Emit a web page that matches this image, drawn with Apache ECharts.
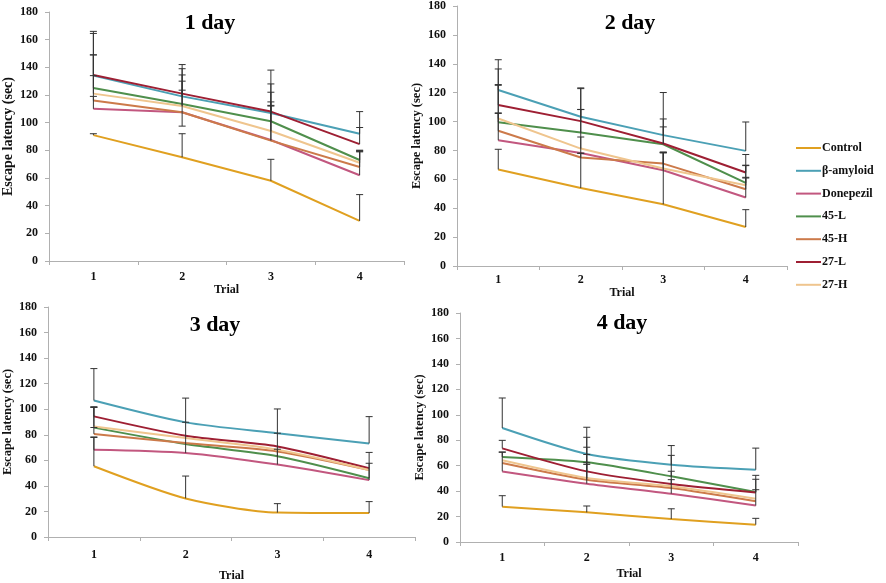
<!DOCTYPE html>
<html>
<head>
<meta charset="utf-8">
<script src="https://cdn.jsdelivr.net/npm/echarts@6/dist/echarts.min.js"></script>
<style>
html,body{margin:0;padding:0;background:#fff;}
#chart{width:886px;height:583px;}
</style>
</head>
<body>
<div id="chart"></div>
<script>
// ---- data ----
const trials = ['1', '2', '3', '4'];
const groups = ['Control', 'β-amyloid', 'Donepezil', '45-L', '45-H', '27-L', '27-H'];
const dayTitles = ['1 day', '2 day', '3 day', '4 day'];
const yTicks = [0, 20, 40, 60, 80, 100, 120, 140, 160, 180];

// means: rows in the order of `groups`, columns = trials 1..4
const day1Means = [
  [91, 75, 58, 29],
  [134, 119, 107, 92],
  [110, 107.5, 87.5, 62],
  [125, 113.5, 101, 73],
  [116, 107.5, 87, 68],
  [134.5, 121, 108, 84.5],
  [121, 112, 94, 71]
];
const day2Means = [
  [66.8, 54, 42.7, 27],
  [121.8, 103.3, 90.6, 79.7],
  [87, 78.3, 66.3, 47.4],
  [99.6, 92.4, 84.3, 57.5],
  [93.6, 75.1, 70.9, 53.1],
  [111.4, 100.3, 84.8, 64.7],
  [102.1, 81.3, 67.5, 55.9]
];
const day3Means = [
  [55.4, 30.2, 19.1, 18.7],
  [106.8, 89.7, 81.2, 73.2],
  [68.3, 65.8, 56.7, 44.5],
  [85.6, 72.7, 63.2, 46],
  [80.7, 73.5, 67, 52.5],
  [94.4, 79.2, 70.9, 53.8],
  [86.4, 77.4, 68.3, 52.5]
];
const day4Means = [
  [27.8, 23.3, 18.1, 13.6],
  [89.6, 69.2, 60.8, 56.8],
  [55.5, 45.8, 38, 28.6],
  [66.8, 62.6, 51.6, 39.3],
  [62.1, 49, 42.4, 32],
  [73.6, 55.5, 45.6, 39],
  [64.2, 50.3, 43.8, 34]
];

// error bar offsets (cap = mean + offset), same layout
const day1Err = [
  [1, 17, 15.5, 19],
  [32, 23, 31, 16],
  [24, -10, 25, 17],
  [24, 21, 21, 7],
  [3, 16, 25, 12],
  [30, 18, 20, 12],
  [28, 18, 21, 8]
];
const day2Err = [
  [14, 24, 36, 12],
  [21, 20, 29.5, 20],
  [19, 11, 12, 14],
  [26, 16, 12, 12],
  [12, 3, 8, 16.7],
  [25, 22.5, 17, 12.5],
  [23, 27, 11, 5]
];
const day3Err = [
  [22.5, 17.5, 7, 9],
  [25, 19, 19, 21],
  [10, 24, 12, 21.7],
  [16, 0, 18, 11.7],
  [5, 0, 0, 0],
  [7.5, 0, 0, 0],
  [15, 0, 0, 0]
];
const day4Err = [
  [8.6, 5, 8, 5],
  [23.6, 21, 15, 17],
  [15, 23, 11, 12.5],
  [4, 19.7, 16.5, 10],
  [0, 12, 0, 0],
  [6.3, 19, 10, 13.4],
  [0, 12, 0, 0]
];

// ---- styling / layout ----
const colors = ['#E0A020', '#4BA0B5', '#C2577F', '#4F8F4C', '#CC7A4A', '#9E1F33', '#EFC58E'];
const FONT = "'Liberation Serif', 'Times New Roman', serif";
const grids = [
  { left: 44, top: 12, width: 360, height: 249 },
  { left: 457, top: 6, width: 330, height: 260 },
  { left: 43, top: 307, width: 372, height: 233 },
  { left: 460, top: 313, width: 338, height: 229 }
];
const labelMargins = [10, 8, 12, 10];
const nameGaps = [22, 21, 33, 26];
const yNameSizes = [14, 12.5, 12.5, 12.5];
const titlePos = [[210, 12], [630, 12], [215, 314], [622, 312]];
const smoothness = [false, false, 0.25, 0.25];

const allMeans = [day1Means, day2Means, day3Means, day4Means];
const allErr = [day1Err, day2Err, day3Err, day4Err];

const axisGray = '#B0B0B0';
const xAxes = [], yAxes = [], series = [], titles = [];

grids.forEach((g, p) => {
  xAxes.push({
    type: 'category', gridIndex: p, data: trials, boundaryGap: true,
    name: 'Trial', nameLocation: 'middle', nameGap: nameGaps[p],
    nameTextStyle: { fontFamily: FONT, fontWeight: 'bold', fontSize: 12, color: '#111' },
    axisLine: { lineStyle: { color: axisGray, width: 1 } },
    axisTick: { show: true, length: 4, lineStyle: { color: axisGray } },
    axisLabel: { fontFamily: FONT, fontWeight: 'bold', fontSize: 12, color: '#111', margin: labelMargins[p] },
    splitLine: { show: false }
  });
  yAxes.push({
    type: 'value', gridIndex: p, min: yTicks[0], max: yTicks[yTicks.length - 1], interval: yTicks[1] - yTicks[0],
    name: 'Escape latency (sec)', nameLocation: 'middle', nameGap: 34,
    nameTextStyle: { fontFamily: FONT, fontWeight: 'bold', fontSize: yNameSizes[p], color: '#111' },
    axisLine: { show: true, lineStyle: { color: axisGray, width: 1 } },
    axisTick: { show: true, length: 4, lineStyle: { color: axisGray } },
    axisLabel: { fontFamily: FONT, fontWeight: 'bold', fontSize: 12, color: '#111', margin: 11 },
    splitLine: { show: false }
  });
  titles.push({
    text: dayTitles[p], left: titlePos[p][0], top: titlePos[p][1], textAlign: 'center', padding: 0,
    textStyle: { fontFamily: FONT, fontWeight: 'bold', fontSize: 22, color: '#000' }
  });
  groups.forEach((name, gi) => {
    series.push({
      type: 'line', name: name, xAxisIndex: p, yAxisIndex: p,
      data: allMeans[p][gi], symbol: 'none', smooth: smoothness[p],
      lineStyle: { color: colors[gi], width: 2 }, itemStyle: { color: colors[gi] },
      z: 2, animation: false
    });
  });
  const ebData = [];
  groups.forEach((name, gi) => {
    trials.forEach((t, ti) => {
      const e = allErr[p][gi][ti];
      if (e !== 0) {
        const m = allMeans[p][gi][ti];
        ebData.push([ti, m, m + e]);
      }
    });
  });
  series.push({
    type: 'custom', xAxisIndex: p, yAxisIndex: p, z: 3, animation: false,
    encode: { x: 0, y: [1, 2] },
    data: ebData,
    renderItem: function (params, api) {
      const x = api.value(0);
      const a = api.coord([x, api.value(1)]);
      const b = api.coord([x, api.value(2)]);
      const st = { stroke: '#333', lineWidth: 1 };
      return {
        type: 'group', children: [
          { type: 'line', shape: { x1: a[0], y1: a[1], x2: b[0], y2: b[1] }, style: st },
          { type: 'line', shape: { x1: b[0] - 3.5, y1: b[1], x2: b[0] + 3.5, y2: b[1] }, style: st }
        ]
      };
    }
  });
});

const chart = echarts.init(document.getElementById('chart'), null, { renderer: 'canvas' });
chart.setOption({
  backgroundColor: '#ffffff',
  animation: false,
  title: titles,
  grid: grids,
  xAxis: xAxes,
  yAxis: yAxes,
  legend: {
    data: groups, orient: 'vertical', left: 796, top: 142,
    icon: 'rect', itemWidth: 25, itemHeight: 2, itemGap: 10.8, padding: 0,
    textStyle: { fontFamily: FONT, fontWeight: 'bold', fontSize: 12, color: '#111', padding: [0, 0, 0, -4] }
  },
  series: series
});
</script>
</body>
</html>
